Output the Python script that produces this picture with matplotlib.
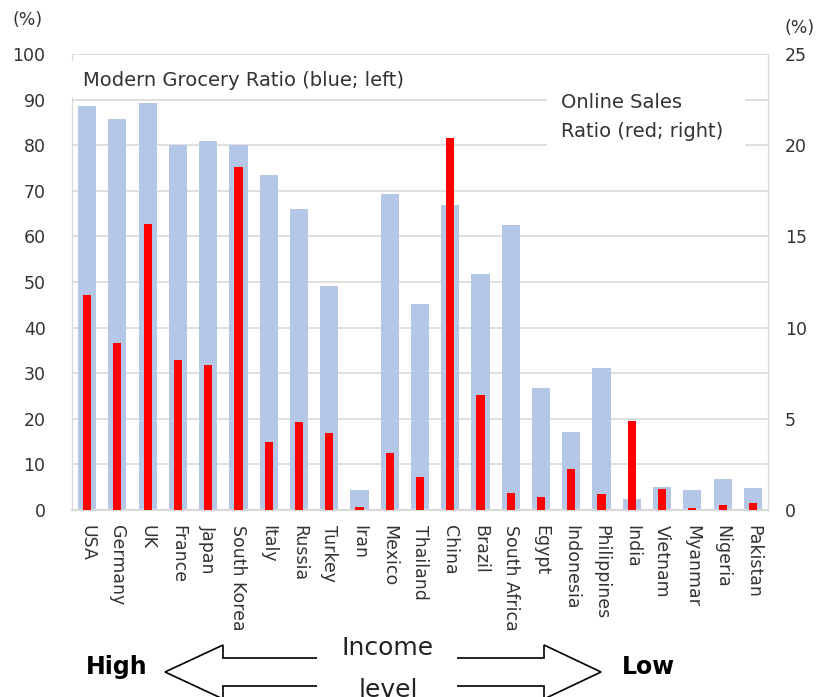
import matplotlib.pyplot as plt
import matplotlib.patches as mpatches
import numpy as np

countries = ['USA', 'Germany', 'UK', 'France', 'Japan', 'South Korea', 'Italy', 'Russia',
             'Turkey', 'Iran', 'Mexico', 'Thailand', 'China', 'Brazil', 'South Africa', 'Egypt',
             'Indonesia', 'Philippines', 'India', 'Vietnam', 'Myanmar', 'Nigeria', 'Pakistan']
# modern grocery ratio (%), left axis
grocery = [88.7, 85.8, 89.3, 80.0, 80.9, 80.0, 73.4, 66.1,
           49.2, 4.4, 69.4, 45.2, 66.9, 51.8, 62.6, 26.7,
           17.0, 31.1, 2.4, 5.0, 4.4, 6.9, 4.8]
# online sales ratio (%), right axis
online = [11.8, 9.15, 15.7, 8.25, 7.95, 18.8, 3.75, 4.8,
          4.2, 0.15, 3.1, 1.8, 20.4, 6.3, 0.95, 0.7,
          2.25, 0.9, 4.9, 1.15, 0.1, 0.27, 0.38]

left_ticks = [0, 10, 20, 30, 40, 50, 60, 70, 80, 90, 100]
right_ticks = [0, 5, 10, 15, 20, 25]

W, H = 817, 697
fig = plt.figure(figsize=(W / 100, H / 100), dpi=100)
ax = fig.add_axes([72 / W, 1 - 510 / H, 696 / W, 456 / H])
ax2 = ax.twinx()

x = np.arange(len(countries))
txt_col = '#333333'
grid_col = '#d9d9d9'

ax.bar(x, grocery, width=0.6, color='#b4c7e7', zorder=2)
ax2.bar(x, online, width=0.27, color='#ff0000', zorder=3)

ax.set_xlim(-0.5, len(countries) - 0.5)
ax.set_ylim(0, 100)
ax2.set_ylim(0, 25)
ax.set_yticks(left_ticks)
ax2.set_yticks(right_ticks)
ax.set_axisbelow(True)
ax.yaxis.grid(True, color=grid_col, lw=1.2)

ax.set_xticks(x)
ax.set_xticklabels(countries, rotation=270, ha='center', va='top', fontsize=12.5, color=txt_col)
ax.tick_params(axis='x', length=0, pad=11)
ax.tick_params(axis='y', length=0, pad=19, labelsize=12.5, labelcolor=txt_col)
ax2.tick_params(axis='y', length=0, pad=12, labelsize=12.5, labelcolor=txt_col)

for a in (ax, ax2):
    a.spines['top'].set_visible(False)
    a.spines['left'].set_color(grid_col)
    a.spines['right'].set_color(grid_col)
    a.spines['bottom'].set_color(grid_col)
    a.spines['bottom'].set_linewidth(1.5)

def px(pts):
    return [(p[0] / W, 1 - p[1] / H) for p in pts]

# white boxes behind the two series labels (hide grid/spine like the original)
for (x0, y0, x1, y1) in [(70, 61, 420, 97), (547, 84, 745, 152)]:
    fig.patches.append(mpatches.Rectangle((x0 / W, 1 - y1 / H), (x1 - x0) / W, (y1 - y0) / H,
                                          facecolor='white', edgecolor='none',
                                          transform=fig.transFigure, zorder=2))

fig.text(28 / W, 1 - 20 / H, '(%)', ha='center', va='center', fontsize=12.5, color=txt_col)
fig.text(800 / W, 1 - 28 / H, '(%)', ha='center', va='center', fontsize=12.5, color=txt_col)

fig.text(83 / W, 1 - 80 / H, 'Modern Grocery Ratio (blue; left)',
         ha='left', va='center', fontsize=14, color=txt_col, zorder=5)
fig.text(561 / W, 1 - 117 / H, 'Online Sales\nRatio (red; right)',
         ha='left', va='center', fontsize=14, color=txt_col, linespacing=1.65, zorder=5)

# income level arrows below the chart
left_arrow = [(317, 658), (223, 658), (223, 645), (165, 672), (223, 699), (223, 686), (317, 686)]
right_arrow = [(457, 658), (544, 658), (544, 645), (601, 672), (544, 699), (544, 686), (457, 686)]
for pts in (left_arrow, right_arrow):
    fig.patches.append(mpatches.Polygon(px(pts), closed=False, facecolor='white',
                                        edgecolor='black', lw=1.2, transform=fig.transFigure))

fig.text(117 / W, 1 - 667 / H, 'High', ha='center', va='center', fontsize=17, fontweight='bold')
fig.text(648 / W, 1 - 667 / H, 'Low', ha='center', va='center', fontsize=17, fontweight='bold')
fig.text(388 / W, 1 - 648 / H, 'Income', ha='center', va='center', fontsize=18, color='#222222')
fig.text(388 / W, 1 - 690 / H, 'level', ha='center', va='center', fontsize=18, color='#222222')

fig.savefig('out.png', dpi=100, facecolor='white')
